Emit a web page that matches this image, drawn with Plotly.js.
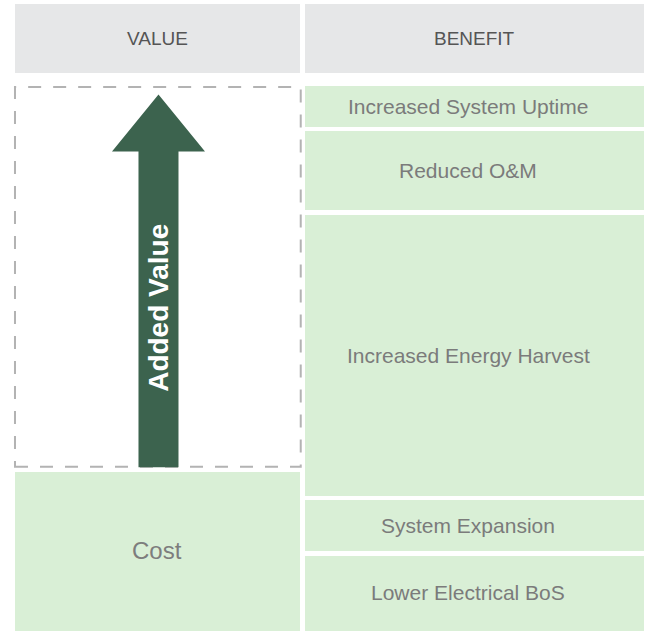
<!DOCTYPE html>
<html><head><meta charset="utf-8">
<script src="https://cdn.plot.ly/plotly-3.0.1.min.js"></script>
<style>html,body{margin:0;padding:0;background:#fff;overflow:hidden}</style>
</head><body><div id="chart" style="width:649px;height:631px"></div>
<script>
// ---- data ----
const columns = ["VALUE", "BENEFIT"];
const valueLabels = ["Cost", "Added Value"];
const valueShares = [29.8, 70.2];
const benefitLabels = ["Lower Electrical BoS", "System Expansion", "Increased Energy Harvest", "Reduced O&M", "Increased System Uptime"];
const benefitShares = [14.6, 10.1, 51.9, 15.2, 8.2];

// ---- layout constants ----
const W = 649, H = 631;
const X_RANGE = [-0.4968, 1.5505];
const Y_RANGE = [0.45, 115.3];
const ux = (X_RANGE[1] - X_RANGE[0]) / W;   // x units per pixel
const uy = (Y_RANGE[1] - Y_RANGE[0]) / H;   // y units per pixel
const COL_W = [0.9132, 1.0836];
const GAP = 4.5;
const GREEN = '#d9efd6';
const HEADER_FILL = '#e6e7e8';
const ARROW = '#3c634e';
const FONT = 'Liberation Sans, Arial, Helvetica, sans-serif';

const traces = [];
// value column: cost (visible), added value (transparent, outlined by a dashed shape)
traces.push({
  type: 'bar', x: [0], y: [valueShares[0]], width: COL_W[0], name: valueLabels[0],
  marker: {color: GREEN, line: {color: '#ffffff', width: GAP}}, hoverinfo: 'skip'
});
traces.push({
  type: 'bar', x: [0], y: [valueShares[1]], width: COL_W[0], name: valueLabels[1],
  marker: {color: 'rgba(0,0,0,0)', line: {width: 0}}, hoverinfo: 'skip'
});
benefitLabels.forEach((lab, i) => {
  traces.push({
    type: 'bar', x: [1], y: [benefitShares[i]], width: COL_W[1], name: lab,
    marker: {color: GREEN, line: {color: '#ffffff', width: GAP}}, hoverinfo: 'skip'
  });
});

const shapes = [];
const annotations = [];

// headers
columns.forEach((c, i) => {
  const x0 = i - COL_W[i] / 2 + (GAP / 2) * ux;
  const x1 = i + COL_W[i] / 2 - (GAP / 2) * ux;
  const y0 = Y_RANGE[1] - 73 * uy, y1 = Y_RANGE[1] - 4 * uy;
  shapes.push({type: 'rect', xref: 'x', yref: 'y', x0, x1, y0, y1,
    fillcolor: HEADER_FILL, line: {width: 0}, layer: 'below'});
  annotations.push({x: i, y: (y0 + y1) / 2, xref: 'x', yref: 'y', text: c, showarrow: false,
    font: {family: FONT, size: 19, color: '#555555'}});
});

// value column: dashed box + arrow
const cost = valueShares[0], added = valueShares[1];
const yTop = cost + added;
shapes.push({type: 'rect', xref: 'x', yref: 'y',
  x0: -COL_W[0] / 2 + 2.25 * ux, x1: COL_W[0] / 2 - 1.5 * ux,
  y0: cost + 3 * uy, y1: yTop - 3 * uy,
  line: {color: '#b3b3b3', width: 2, dash: '13px,12px'}, fillcolor: 'rgba(0,0,0,0)', layer: 'above'});

const xc = 1 * ux;
const shaftHalf = 20 * ux, headHalf = 46.5 * ux;
const yBottom = cost + 2.6 * uy;
const yTip = yTop - 10.5 * uy;
const yHead = yTip - 57 * uy;
const pathPts = [
  [xc - shaftHalf, yBottom], [xc - shaftHalf, yHead], [xc - headHalf, yHead], [xc, yTip],
  [xc + headHalf, yHead], [xc + shaftHalf, yHead], [xc + shaftHalf, yBottom]
];
shapes.push({type: 'path', xref: 'x', yref: 'y',
  path: 'M ' + pathPts.map(p => p[0] + ',' + p[1]).join(' L ') + ' Z',
  fillcolor: ARROW, line: {width: 0}, layer: 'above'});

annotations.push({x: xc, y: (yBottom + yHead) / 2 + 2 * uy, xref: 'x', yref: 'y', text: '<b>' + valueLabels[1] + '</b>',
  textangle: -90, showarrow: false, font: {family: FONT, size: 28, color: '#ffffff'}});
annotations.push({x: 0, y: (Y_RANGE[0] + cost) / 2, xref: 'x', yref: 'y', text: valueLabels[0], showarrow: false,
  font: {family: FONT, size: 24, color: '#7d7d7d'}});

// benefit labels
let acc = 0;
benefitLabels.forEach((lab, i) => {
  const lo = Math.max(acc, Y_RANGE[0]);
  acc += benefitShares[i];
  annotations.push({x: 1, y: (lo + acc) / 2, xref: 'x', yref: 'y', text: lab, showarrow: false, xshift: -6,
    font: {family: FONT, size: 21, color: '#7b7b7b'}});
});

const layout = {
  width: W, height: H, margin: {l: 0, r: 0, t: 0, b: 0, pad: 0},
  paper_bgcolor: '#ffffff', plot_bgcolor: '#ffffff',
  barmode: 'stack', bargap: 0, showlegend: false, hovermode: false,
  xaxis: {type: 'linear', range: X_RANGE, visible: false, fixedrange: true},
  yaxis: {range: Y_RANGE, visible: false, fixedrange: true},
  shapes, annotations
};

Plotly.newPlot('chart', traces, layout, {displayModeBar: false, staticPlot: true});
</script>
</body></html>
